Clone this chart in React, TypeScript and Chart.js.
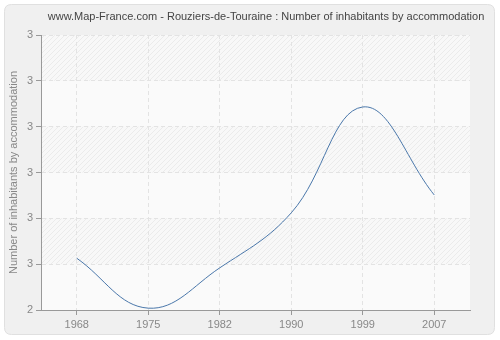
import React, { useEffect, useRef } from "react";
import { Chart, registerables } from "chart.js";

Chart.register(...registerables);

const titleText = "www.Map-France.com - Rouziers-de-Touraine : Number of inhabitants by accommodation";
const yAxisTitle = "Number of inhabitants by accommodation";
const years = ["1968", "1975", "1982", "1990", "1999", "2007"];
const inhabitantsPerHousing = [2.513, 2.404, 2.492, 2.612, 2.843, 2.651];
const yTickLabels = ["2", "3", "3", "3", "3", "3", "3"];
const yMin = 2.4;
const yMax = 3.0;
const yStep = 0.1;

const FONT = "'Liberation Sans', Arial, sans-serif";

function makeHatch(): CanvasPattern | string {
  const c = document.createElement("canvas");
  c.width = 5;
  c.height = 5;
  const g = c.getContext("2d");
  if (!g) return "#f7f7f7";
  g.fillStyle = "#f8f8f8";
  g.fillRect(0, 0, 5, 5);
  g.strokeStyle = "#ebebeb";
  g.lineWidth = 1;
  g.beginPath();
  g.moveTo(-1, 6);
  g.lineTo(6, -1);
  g.moveTo(-1, 1);
  g.lineTo(1, -1);
  g.moveTo(4, 6);
  g.lineTo(6, 4);
  g.stroke();
  const p = g.createPattern(c, "repeat");
  return p || "#f7f7f7";
}

const backgroundPlugin = {
  id: "bgPanel",
  beforeDraw(chart: any) {
    const ctx = chart.ctx as CanvasRenderingContext2D;
    const { width, height } = chart;
    ctx.save();
    ctx.fillStyle = "#ffffff";
    ctx.fillRect(0, 0, width, height);
    const x = 4.5, y = 4.5, w = width - 10, h = height - 10, r = 7;
    ctx.beginPath();
    ctx.moveTo(x + r, y);
    ctx.lineTo(x + w - r, y);
    ctx.quadraticCurveTo(x + w, y, x + w, y + r);
    ctx.lineTo(x + w, y + h - r);
    ctx.quadraticCurveTo(x + w, y + h, x + w - r, y + h);
    ctx.lineTo(x + r, y + h);
    ctx.quadraticCurveTo(x, y + h, x, y + h - r);
    ctx.lineTo(x, y + r);
    ctx.quadraticCurveTo(x, y, x + r, y);
    ctx.closePath();
    ctx.fillStyle = "#f0f0f0";
    ctx.fill();
    ctx.strokeStyle = "#e0e0e0";
    ctx.lineWidth = 1;
    ctx.stroke();

    const area = chart.chartArea;
    const yScale = chart.scales.y;
    ctx.fillStyle = "#fafafa";
    ctx.fillRect(area.left, area.top, area.right - area.left, area.bottom - area.top);
    const hatch = makeHatch();
    const ticks = yScale.ticks;
    for (let i = 0; i < ticks.length - 1; i++) {
      const yb = yScale.getPixelForValue(ticks[i].value);
      const yt = yScale.getPixelForValue(ticks[i + 1].value);
      const fromTop = ticks.length - 2 - i;
      if (fromTop % 2 === 0) {
        ctx.fillStyle = hatch as any;
        ctx.fillRect(area.left, yt, area.right - area.left, yb - yt);
      }
    }

    ctx.fillStyle = "#444444";
    ctx.font = `11px ${FONT}`;
    ctx.textAlign = "center";
    ctx.textBaseline = "middle";
    ctx.fillText(titleText, 266, 17);
    ctx.restore();
  },
};

export default function App() {
  const ref = useRef<HTMLCanvasElement | null>(null);

  useEffect(() => {
    if (!ref.current) return;
    const chart = new Chart(ref.current, {
      type: "line",
      data: {
        labels: years,
        datasets: [
          {
            data: inhabitantsPerHousing,
            borderColor: "#4a77aa",
            borderWidth: 1,
            pointRadius: 0,
            pointHoverRadius: 0,
            tension: 0.4,
            fill: false,
          },
        ],
      },
      plugins: [backgroundPlugin],
      options: {
        animation: false,
        responsive: false,
        maintainAspectRatio: false,
        events: [],
        layout: { padding: { top: 35, left: 0, right: 30, bottom: 0 } },
        plugins: {
          legend: { display: false },
          tooltip: { enabled: false },
          title: { display: false },
        },
        scales: {
          x: {
            type: "category",
            offset: true,
            grid: {
              offset: false,
              color: "#e3e3e3",
              tickColor: "#999999",
              tickLength: 5,
              drawOnChartArea: true,
            },
            border: { display: true, color: "#999999", dash: [4, 3] } as any,
            ticks: {
              color: "#888888",
              font: { family: FONT, size: 11 },
              padding: 3,
              maxRotation: 0,
              autoSkip: false,
            },
            afterFit: (s: any) => {
              s.height = 30;
            },
          },
          y: {
            min: yMin,
            max: yMax,
            grid: {
              color: "#e3e3e3",
              tickColor: "#999999",
              tickLength: 5,
            },
            border: { display: true, color: "#999999", dash: [4, 3] } as any,
            ticks: {
              stepSize: yStep,
              color: "#888888",
              font: { family: FONT, size: 11 },
              padding: 3,
              callback: (_v: any, i: number) => yTickLabels[i],
            },
            title: {
              display: true,
              text: yAxisTitle,
              color: "#888888",
              font: { family: FONT, size: 11 },
              padding: { top: 7, bottom: 0 },
            },
            afterFit: (s: any) => {
              s.width = 41;
            },
          },
        },
      },
    });
    return () => chart.destroy();
  }, []);

  return (
    <div style={{ position: "fixed", left: 0, top: 0, width: 500, height: 340 }}>
      <canvas ref={ref} width={500} height={340} style={{ display: "block" }} />
    </div>
  );
}
